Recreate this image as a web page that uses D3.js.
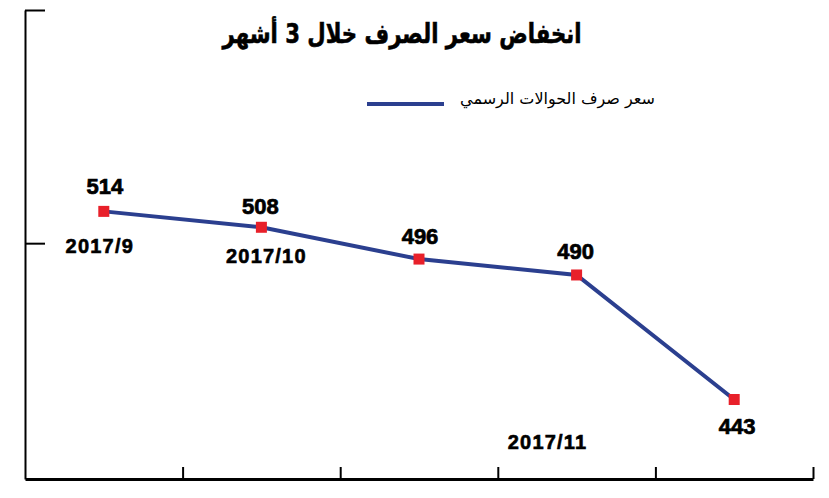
<html>
<head>
    <meta charset="utf-8">
    <script src="https://cdn.jsdelivr.net/npm/d3@7"></script>
    <style>
        body { margin: 0; background: white; }
        svg { display: block; }
        .num { font-family: "Liberation Sans", Arial, sans-serif; font-weight: bold; }
        .ar { font-family: "DejaVu Sans", sans-serif; }
    </style>
</head>
<body>
<svg id="chart"></svg>
<script>
    // values
    const rates = [514, 508, 496, 490, 443];
    const months = ["2017/9", "2017/10", "2017/11"];
    const monthPoint = [0, 1, 3];
    const yTickValues = [502, 590];
    const titleText = "انخفاض سعر الصرف خلال 3 أشهر";
    const legendText = "سعر صرف الحوالات الرسمي";

    const width = 829, height = 498;
    const margin = { top: 10, bottom: 19, left: 25, right: 16 };
    const lineColor = "#2b3f8f";
    const markerColor = "#e8202a";

    const svg = d3.select("#chart").attr("width", width).attr("height", height);

    const xBand = d3.scaleBand()
        .domain(d3.range(rates.length))
        .range([margin.left, width - margin.right]);
    const xEdge = d3.scaleLinear()
        .domain([0, rates.length])
        .range([margin.left, width - margin.right]);
    const yScale = d3.scaleLinear()
        .domain([413, 590])
        .range([height - margin.bottom, margin.top]);
    const cx = i => xBand(i) + xBand.bandwidth() / 2;

    // axes
    let axisX = d3.axisBottom(xEdge)
        .tickValues(d3.range(1, rates.length + 1))
        .tickSize(-12)
        .tickSizeOuter(0)
        .tickFormat("");
    let gx = svg.append("g")
        .attr("transform", `translate(0,${height - margin.bottom})`)
        .call(axisX);
    gx.select(".domain").attr("stroke", "#000").attr("stroke-width", 3);
    gx.selectAll(".tick line").attr("stroke", "#000").attr("stroke-width", 2);

    let axisY = d3.axisRight(yScale)
        .tickValues(yTickValues)
        .tickSize(20)
        .tickSizeOuter(0)
        .tickFormat("");
    let gy = svg.append("g")
        .attr("transform", `translate(${margin.left},0)`)
        .call(axisY);
    gy.select(".domain").attr("stroke", "#000").attr("stroke-width", 2);
    gy.selectAll(".tick line").attr("stroke", "#000").attr("stroke-width", 2);

    // title
    svg.append("text")
        .attr("class", "ar")
        .attr("x", 402)
        .attr("y", 43)
        .attr("text-anchor", "middle")
        .attr("textLength", 359)
        .attr("lengthAdjust", "spacingAndGlyphs")
        .style("font-size", "27px")
        .style("font-weight", "bold")
        .attr("stroke", "#000")
        .attr("stroke-width", 0.6)
        .text(titleText);

    // legend
    svg.append("line")
        .attr("x1", 367).attr("x2", 444)
        .attr("y1", 104).attr("y2", 104)
        .attr("stroke", lineColor)
        .attr("stroke-width", 4);
    svg.append("text")
        .attr("class", "ar")
        .attr("x", 655)
        .attr("y", 104)
        .attr("text-anchor", "end")
        .style("font-size", "16px")
        .text(legendText);

    // line + markers
    let line = d3.line()
        .x((d, i) => cx(i))
        .y(d => yScale(d));
    svg.append("path")
        .datum(rates)
        .attr("d", line)
        .attr("fill", "none")
        .attr("stroke", lineColor)
        .attr("stroke-width", 4);

    const m = 11;
    svg.selectAll(".marker")
        .data(rates)
        .enter().append("rect")
        .attr("class", "marker")
        .attr("x", (d, i) => cx(i) - m / 2)
        .attr("y", d => yScale(d) - m / 2)
        .attr("width", m)
        .attr("height", m)
        .attr("fill", markerColor);

    // value labels
    const valueDx = [1, -1, 1, -1, 3];
    const valueDy = [-17, -13, -15, -16, 34];
    svg.selectAll(".val")
        .data(rates)
        .enter().append("text")
        .attr("class", "num val")
        .attr("x", (d, i) => cx(i) + valueDx[i])
        .attr("y", (d, i) => yScale(d) + valueDy[i])
        .attr("text-anchor", "middle")
        .style("font-size", "22px")
        .attr("stroke", "#000")
        .attr("stroke-width", 0.7)
        .text(d => d);

    // month labels
    const monthDx = [-4, 5, -29];
    const monthDy = [42, 36, 174];
    svg.selectAll(".month")
        .data(months)
        .enter().append("text")
        .attr("class", "num month")
        .attr("x", (d, i) => cx(monthPoint[i]) + monthDx[i])
        .attr("y", (d, i) => yScale(rates[monthPoint[i]]) + monthDy[i])
        .attr("text-anchor", "middle")
        .style("font-size", "20px")
        .style("letter-spacing", "1.2px")
        .attr("stroke", "#000")
        .attr("stroke-width", 0.6)
        .text(d => d);
</script>
</body>
</html>
